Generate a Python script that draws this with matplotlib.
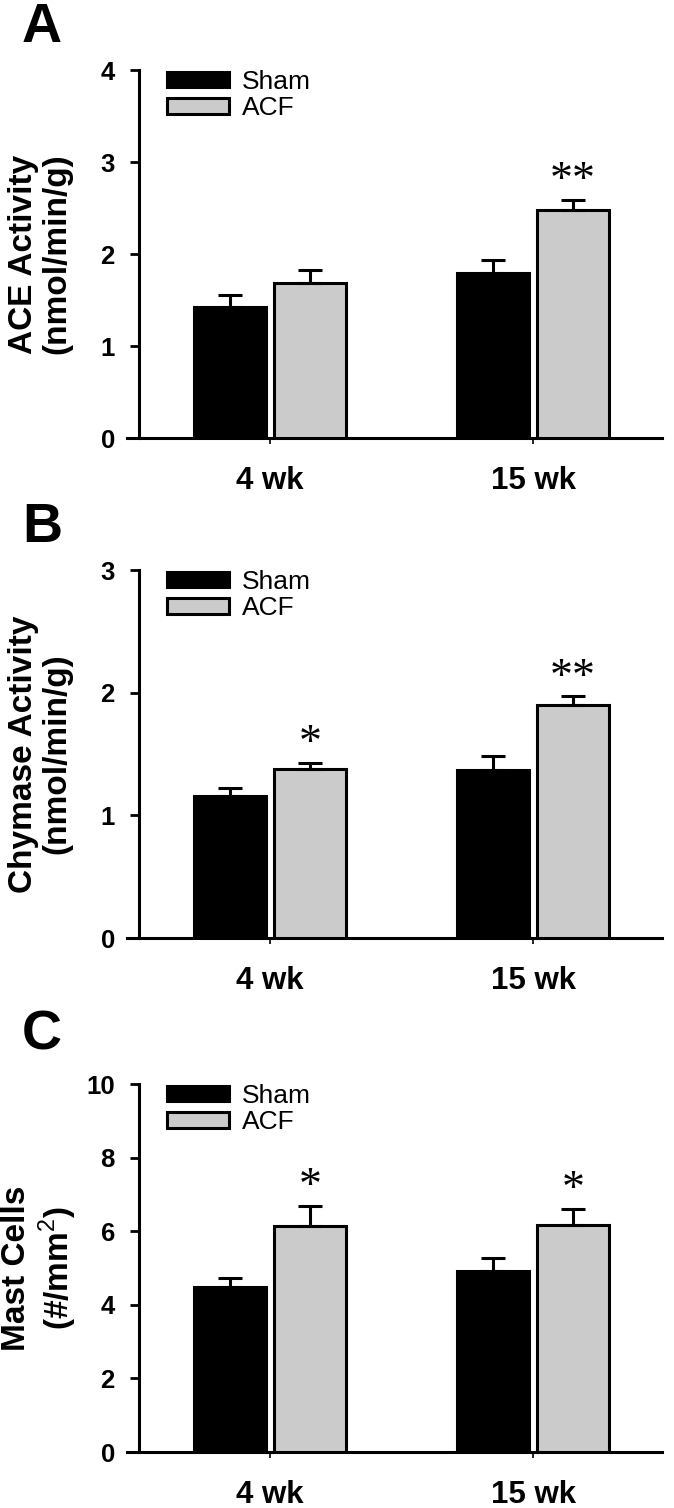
import numpy as np
import matplotlib
matplotlib.use('Agg')
import matplotlib.pyplot as plt

plt.rcParams['font.family'] = ['Liberation Sans', 'DejaVu Sans']
plt.rcParams['mathtext.fontset'] = 'custom'
plt.rcParams['mathtext.rm'] = 'Liberation Sans'
plt.rcParams['mathtext.bf'] = 'Liberation Sans:bold'

groups = ['4 wk', '15 wk']
series = ['Sham', 'ACF']

ace_sham = [1.42, 1.79]
ace_sham_err = [0.13, 0.15]
ace_acf = [1.68, 2.48]
ace_acf_err = [0.15, 0.11]

chy_sham = [1.16, 1.37]
chy_sham_err = [0.06, 0.11]
chy_acf = [1.38, 1.90]
chy_acf_err = [0.05, 0.07]

mast_sham = [4.49, 4.93]
mast_sham_err = [0.25, 0.33]
mast_acf = [6.15, 6.18]
mast_acf_err = [0.53, 0.43]

ace_stars = ['', '**']
chy_stars = ['*', '**']
mast_stars = ['*', '*']

W, H = 674, 1508
fig = plt.figure(figsize=(W / 100, H / 100), dpi=100)

x = np.arange(len(groups))
bw = 0.274
off = 0.152


def panel(ax_rect, sham, sham_err, acf, acf_err, stars, ymax, ystep, letter, ylabel, letter_y):
    ax = fig.add_axes(ax_rect)
    ax.bar(x - off, sham, bw, color='black', edgecolor='black', linewidth=2.2,
           yerr=[np.zeros(len(sham)), sham_err], capsize=8.5,
           error_kw={'elinewidth': 2.2, 'capthick': 2.2, 'ecolor': 'black'}, label=series[0], zorder=3)
    ax.bar(x + off, acf, bw, color='#cbcbcb', edgecolor='black', linewidth=2.2,
           yerr=[np.zeros(len(acf)), acf_err], capsize=8.5,
           error_kw={'elinewidth': 2.2, 'capthick': 2.2, 'ecolor': 'black'}, label=series[1], zorder=3)
    for i, s in enumerate(stars):
        if s:
            ax.annotate(s, (x[i] + off, acf[i] + acf_err[i]), xytext=(0, 13),
                        textcoords='offset points', ha='center', va='center',
                        fontsize=33, family='Liberation Serif', annotation_clip=False)
    ax.set_xlim(-0.544, 1.490)
    ax.set_ylim(0, ymax)
    ax.spines['top'].set_visible(False)
    ax.spines['right'].set_visible(False)
    ax.spines['left'].set_position(('data', -0.498))
    ax.spines['left'].set_linewidth(2.2)
    ax.spines['bottom'].set_linewidth(2.2)
    ax.set_yticks(np.arange(0, ymax + ystep / 2, ystep))
    ax.tick_params(axis='y', direction='out', length=6.5, width=2.0, pad=11,
                   labelsize=18.5)
    ax.set_xticks(x)
    ax.set_xticklabels(groups)
    ax.tick_params(axis='x', direction='out', length=4, width=1.2, pad=16, labelsize=22.5)
    for lab in ax.get_xticklabels() + ax.get_yticklabels():
        lab.set_fontweight('bold')
    ax.legend(loc='upper left', bbox_to_anchor=(0.075, 1.0), frameon=False, fontsize=19,
              handlelength=2.35, handleheight=0.53, handletextpad=0.5, labelspacing=0.08,
              borderpad=0.0, borderaxespad=0.0)
    axc = ax_rect[3] / 2 + ax_rect[1]
    fig.text(40 / W, axc, ylabel, rotation=90, ha='center', va='center',
             multialignment='center', fontsize=24, fontweight='bold', linespacing=1.12)
    fig.text(22 / W, 1 - letter_y / H, letter, ha='left', va='top', fontsize=40, fontweight='bold')
    return ax


left = 127 / W
width = 535 / W
height = 368 / H

panel([left, (H - 438) / H, width, height], ace_sham, ace_sham_err, ace_acf, ace_acf_err,
      ace_stars, 4, 1, 'A', 'ACE Activity\n(nmol/min/g)', 2)
panel([left, (H - 938) / H, width, height], chy_sham, chy_sham_err, chy_acf, chy_acf_err,
      chy_stars, 3, 1, 'B', 'Chymase Activity\n(nmol/min/g)', 502)
panel([left, (H - 1452) / H, width, height], mast_sham, mast_sham_err, mast_acf, mast_acf_err,
      mast_stars, 10, 2, 'C', 'Mast Cells\n(#/mm$^{2}$)', 1010)

fig.savefig('out.png', dpi=100)
